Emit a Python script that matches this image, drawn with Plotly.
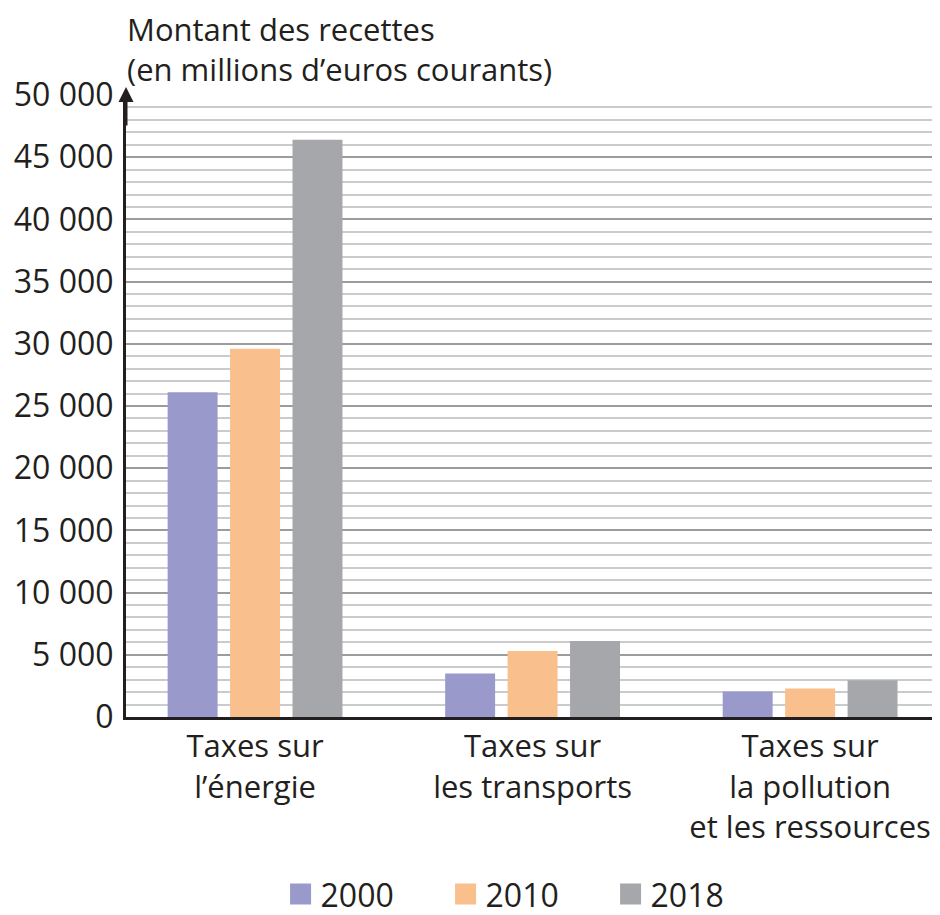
import plotly.graph_objects as go

categories = ["Taxes sur<br>l’énergie", "Taxes sur<br>les transports", "Taxes sur<br>la pollution<br>et les ressources"]
years = ["2000", "2010", "2018"]
values_2000 = [26100, 3500, 2050]
values_2010 = [29600, 5300, 2300]
values_2018 = [46400, 6100, 2950]
colors = ["#9999cc", "#f9bf8c", "#a6a7aa"]
y_tickvals = [0, 5000, 10000, 15000, 20000, 25000, 30000, 35000, 40000, 45000, 50000]

FONT = "Open Sans"
series = [values_2000, values_2010, values_2018]

fig = go.Figure()
for name, vals, col in zip(years, series, colors):
    fig.add_trace(go.Bar(x=categories, y=vals, name=name, showlegend=False,
                         marker=dict(color=col, line=dict(width=0))))
# legend entries with larger square swatches
for name, col in zip(years, colors):
    fig.add_trace(go.Scatter(x=[None], y=[None], mode="markers", name=name,
                             marker=dict(symbol="square", size=16, color=col,
                                         line=dict(width=5, color=col))))

fig.update_layout(
    width=932, height=907,
    margin=dict(l=118, r=5, t=87, b=198, autoexpand=False),
    paper_bgcolor="white", plot_bgcolor="white",
    barmode="group", bargap=0.325, bargroupgap=0.2,
    separators=", ",
    font=dict(family=FONT, color="#231f20"),
    showlegend=True,
    legend=dict(orientation="h", x=0.497, xanchor="center", y=-0.285, yanchor="middle",
                font=dict(size=32, color="#231f20"), entrywidth=120, itemwidth=30),
)
fig.update_xaxes(
    range=[-0.465, 2.45], showgrid=False, showline=True, linecolor="#231f20", linewidth=3,
    ticks="", tickfont=dict(size=31, color="#231f20"), ticklabelstandoff=0, automargin=False,
)
fig.update_yaxes(
    range=[0, 50000], tickvals=y_tickvals, tickformat=",d",
    showline=True, linecolor="#231f20", linewidth=3,
    showgrid=True, gridcolor="#9c9c9c", gridwidth=2,
    minor=dict(dtick=1000, showgrid=True, gridcolor="#cbcbcb", gridwidth=2),
    ticks="", tickfont=dict(size=32, color="#231f20"), ticklabelstandoff=3,
    zeroline=False, automargin=False,
)
fig.add_annotation(xref="paper", yref="paper", x=0.0, y=1.0, xanchor="left", yanchor="bottom",
                   text="Montant des recettes<br>(en millions d’euros courants)",
                   showarrow=False, align="left", yshift=4, borderpad=0,
                   font=dict(size=31, color="#231f20", family=FONT))
fig.add_annotation(xref="paper", yref="y", x=0, y=50000, ax=0, ay=40, axref="pixel", ayref="pixel",
                   showarrow=True, arrowhead=2, arrowsize=1, arrowwidth=3, arrowcolor="#231f20", text="",
                   yshift=8)
fig.write_html("out.html")
